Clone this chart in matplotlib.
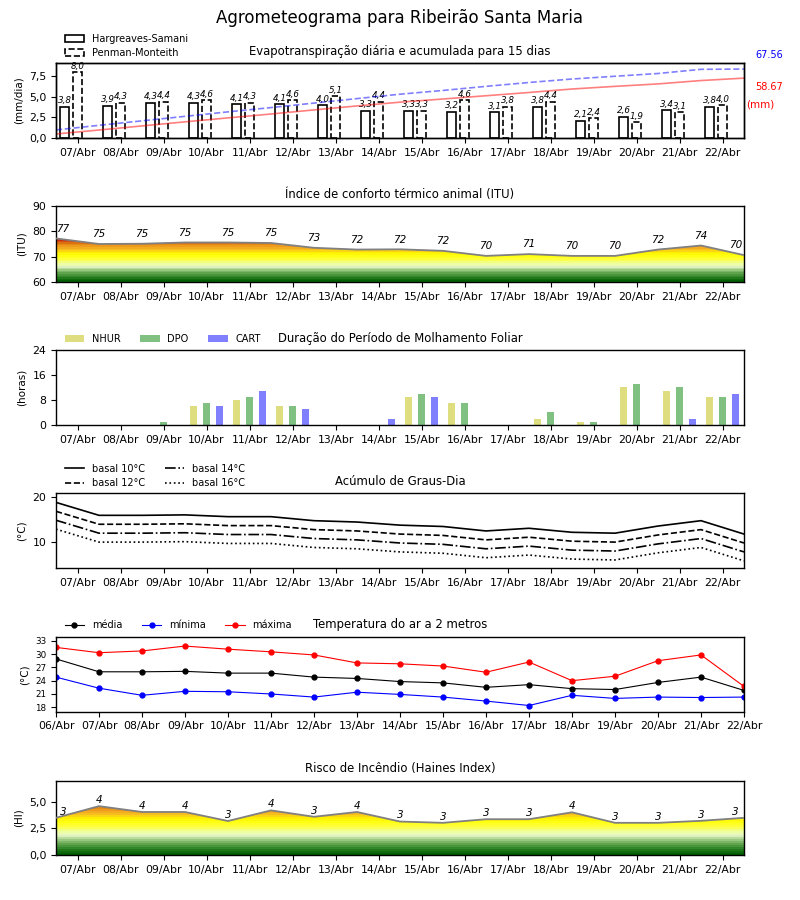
import numpy as np
import matplotlib
matplotlib.use("Agg")
import matplotlib.pyplot as plt
from matplotlib.colors import LinearSegmentedColormap, Normalize
from matplotlib.ticker import FuncFormatter

# ---------------- data ----------------
dates = ['07/Abr', '08/Abr', '09/Abr', '10/Abr', '11/Abr', '12/Abr', '13/Abr', '14/Abr',
         '15/Abr', '16/Abr', '17/Abr', '18/Abr', '19/Abr', '20/Abr', '21/Abr', '22/Abr']
dates_temp = ['06/Abr'] + dates

hargreaves = [3.8, 3.9, 4.3, 4.3, 4.1, 4.1, 4.0, 3.3, 3.3, 3.2, 3.1, 3.8, 2.1, 2.6, 3.4, 3.8]
penman = [8.0, 4.3, 4.4, 4.6, 4.3, 4.6, 5.1, 4.4, 3.3, 4.6, 3.8, 4.4, 2.4, 1.9, 3.1, 4.0]
cum_hargreaves = [3.9, 7.8, 11.8, 15.8, 19.7, 23.5, 27.5, 31.4, 35.1, 38.2, 41.4, 44.6,
                  48.0, 50.6, 53.0, 56.3, 58.67]
cum_penman = [7.9, 12.4, 16.8, 21.2, 25.6, 29.8, 34.2, 38.6, 42.9, 46.6, 50.6, 54.4,
              57.8, 60.5, 63.2, 67.3, 67.56]
total_hargreaves = '58.67'
total_penman = '67.56'

itu = [77.2, 75.0, 75.1, 75.6, 75.6, 75.4, 73.5, 72.8, 72.9, 72.3, 70.3, 71.0,
       70.3, 70.3, 72.8, 74.4, 70.6]

nhur = [0, 0, 0, 6, 8, 6, 0, 0, 9, 7, 0, 2, 1, 12, 11, 9]
dpo = [0, 0, 1, 7, 9, 6, 0, 0, 10, 7, 0, 4, 1, 13, 12, 9]
cart = [0, 0, 0, 6, 11, 5, 0, 2, 9, 0, 0, 0, 0, 0, 2, 10]

gd10 = [18.9, 16.0, 16.0, 16.1, 15.7, 15.7, 14.8, 14.5, 13.8, 13.5, 12.5, 13.1, 12.2, 12.0, 13.6, 14.8, 11.8]
gd12 = [16.9, 14.0, 14.0, 14.1, 13.7, 13.7, 12.8, 12.5, 11.8, 11.5, 10.5, 11.1, 10.2, 10.0, 11.6, 12.8, 9.8]
gd14 = [14.9, 12.0, 12.0, 12.1, 11.7, 11.7, 10.8, 10.5, 9.8, 9.5, 8.5, 9.1, 8.2, 8.0, 9.6, 10.8, 7.8]
gd16 = [12.9, 10.0, 10.0, 10.1, 9.7, 9.7, 8.8, 8.5, 7.8, 7.5, 6.5, 7.1, 6.2, 6.0, 7.6, 8.8, 5.8]

tmean = [28.9, 26.0, 26.0, 26.1, 25.7, 25.7, 24.8, 24.5, 23.8, 23.5, 22.5, 23.1, 22.2, 22.0, 23.6, 24.8, 21.8]
tmin = [24.8, 22.3, 20.7, 21.6, 21.5, 21.0, 20.3, 21.4, 20.9, 20.3, 19.4, 18.4, 20.7, 20.0, 20.3, 20.2, 20.3]
tmax = [31.5, 30.3, 30.7, 31.8, 31.1, 30.5, 29.8, 28.0, 27.8, 27.3, 25.9, 28.2, 24.0, 25.0, 28.5, 29.8, 22.7]

haines = [3.5, 4.6, 4.05, 4.05, 3.2, 4.2, 3.6, 4.05, 3.15, 3.03, 3.37, 3.37, 4.02, 3.03, 3.03, 3.22, 3.5]

# ---------------- style ----------------
plt.rcParams['font.family'] = ['DejaVu Sans']
plt.rcParams['axes.linewidth'] = 1.0
TICK_FS = 7.8
TITLE_FS = 8.4
LAB_FS = 7.5
LEG_FS = 7

cmap = LinearSegmentedColormap.from_list('risk', [
    (0.00, '#005f00'), (0.08, '#2a7f22'), (0.16, '#5ea34c'), (0.24, '#a5d08c'),
    (0.30, '#e8f8c8'), (0.36, '#eeffa0'), (0.44, '#ffff40'), (0.52, '#ffff10'),
    (0.58, '#fff000'), (0.64, '#f8c020'), (0.70, '#f0a020'), (0.76, '#e08010'),
    (0.82, '#d04010'), (0.88, '#c00000'), (1.00, '#900000')], N=32)

fig = plt.figure(figsize=(8, 9), dpi=100)
fig.suptitle('Agrometeograma para Ribeirão Santa Maria', fontsize=12, y=0.99)

L, W = 0.07, 0.86
H = 0.0833
ax1 = fig.add_axes([L, 0.8467, W, H])
ax2 = fig.add_axes([L, 0.6867, W, 0.0844])
ax3 = fig.add_axes([L, 0.5278, W, H])
ax4 = fig.add_axes([L, 0.3689, W, H])
ax5 = fig.add_axes([L, 0.2092, W, H])
ax6 = fig.add_axes([L, 0.0500, W, 0.0826])

x16 = np.arange(len(dates))
x17 = np.arange(len(dates) + 1) - 0.5
comma1 = FuncFormatter(lambda v, p: f'{v:.1f}'.replace('.', ','))


def date_axis(ax):
    ax.set_xticks(x16)
    ax.set_xticklabels(dates, fontsize=TICK_FS)
    ax.set_xlim(-0.5, 15.5)
    ax.tick_params(axis='y', labelsize=TICK_FS)


def gradient_fill(ax, x, y, ymin, vmin, vmax):
    poly = ax.fill_between(x, y, ymin, facecolor='none', edgecolor='none')
    ytop = max(y) + 0.5
    grad = np.linspace(ymin, ytop, 400).reshape(-1, 1)
    im = ax.imshow(grad, cmap=cmap, norm=Normalize(vmin, vmax),
                   extent=[x[0], x[-1], ymin, ytop], origin='lower',
                   aspect='auto', zorder=1, interpolation='nearest')
    im.set_clip_path(poly.get_paths()[0], transform=ax.transData)
    ax.plot(x, y, color='#808080', lw=1.3, zorder=3)


def point_labels(ax, x, y, dy):
    n = len(x)
    for i, (xi, yi) in enumerate(zip(x, y)):
        dx = 5 if i == 0 else (-6 if i == n - 1 else 0)
        ax.annotate(f'{int(yi)}', (xi, yi), xytext=(dx, dy), textcoords='offset points',
                    ha='center', va='center', fontsize=7.5, style='italic', zorder=4)


# ---------------- panel 1: evapotranspiration ----------------
b1 = ax1.bar(x16 - 0.3, hargreaves, width=0.2, facecolor='white', edgecolor='black',
             lw=1.2, label='Hargreaves-Samani', zorder=2)
b2 = ax1.bar(x16, penman, width=0.2, facecolor='white', edgecolor='black', lw=1.2,
             ls='--', label='Penman-Monteith', zorder=2)
for xs, vals in ((x16 - 0.3, hargreaves), (x16, penman)):
    for xi, v in zip(xs, vals):
        ax1.annotate(f'{v:.1f}'.replace('.', ','), (xi, v), xytext=(0, 1),
                     textcoords='offset points', ha='center', va='bottom',
                     fontsize=6.3, style='italic')
date_axis(ax1)
ax1.set_ylim(0, 9.1)
ax1.set_yticks([0, 2.5, 5.0, 7.5])
ax1.yaxis.set_major_formatter(comma1)
ax1.set_ylabel('(mm/dia)', fontsize=LAB_FS)
ax1.set_title('Evapotranspiração diária e acumulada para 15 dias', fontsize=TITLE_FS)
ax1.legend(loc='lower left', bbox_to_anchor=(0, 0.95), frameon=False, fontsize=LEG_FS,
           borderaxespad=0.5, labelspacing=0.45)
ax1t = ax1.twinx()
ax1t.plot(x17, cum_hargreaves, color='red', alpha=0.5, lw=1.2)
ax1t.plot(x17, cum_penman, color='blue', alpha=0.5, lw=1.2, ls='--')
ax1t.set_ylim(0, 73.5)
ax1t.set_yticks([])
ax1t.set_xlim(-0.5, 15.5)
ax1.text(1.036, 1.107, total_penman, transform=ax1.transAxes, color='blue',
         fontsize=7, ha='center', va='center')
ax1.text(1.036, 0.68, total_hargreaves, transform=ax1.transAxes, color='red',
         fontsize=7, ha='center', va='center')
ax1.text(1.003, 0.44, '(mm)', transform=ax1.transAxes, color='red',
         fontsize=7.5, ha='left', va='center')

# ---------------- panel 2: ITU ----------------
gradient_fill(ax2, x17, itu, 60, 60, 80)
point_labels(ax2, x17, itu, 7)
date_axis(ax2)
ax2.set_ylim(60, 90)
ax2.set_yticks([60, 70, 80, 90])
ax2.set_ylabel('(ITU)', fontsize=LAB_FS)
ax2.set_title('Índice de conforto térmico animal (ITU)', fontsize=TITLE_FS)

# ---------------- panel 3: leaf wetness ----------------
ax3.bar(x16 - 0.3, nhur, width=0.15, color='#dede80', label='NHUR')
ax3.bar(x16, dpo, width=0.15, color='#80c080', label='DPO')
ax3.bar(x16 + 0.3, cart, width=0.15, color='#8080ff', label='CART')
date_axis(ax3)
ax3.set_ylim(0, 24)
ax3.set_yticks([0, 8, 16, 24])
ax3.set_ylabel('(horas)', fontsize=LAB_FS)
ax3.set_title('Duração do Período de Molhamento Foliar', fontsize=TITLE_FS)
ax3.legend(loc='lower left', bbox_to_anchor=(0, 0.97), ncol=3, frameon=False,
           fontsize=LEG_FS, borderaxespad=0.5)

# ---------------- panel 4: degree days ----------------
ax4.plot(x17, gd10, color='black', lw=1.2, ls='-', label='basal 10°C')
ax4.plot(x17, gd12, color='black', lw=1.2, ls='--', label='basal 12°C')
ax4.plot(x17, gd14, color='black', lw=1.2, ls='-.', label='basal 14°C')
ax4.plot(x17, gd16, color='black', lw=1.2, ls=':', label='basal 16°C')
date_axis(ax4)
ax4.set_ylim(4.2, 21.0)
ax4.set_yticks([10, 20])
ax4.set_ylabel('(°C)', fontsize=LAB_FS)
ax4.set_title('Acúmulo de Graus-Dia', fontsize=TITLE_FS)
ax4.legend(loc='lower left', bbox_to_anchor=(0, 0.95), ncol=2, frameon=False,
           fontsize=LEG_FS, borderaxespad=0.5, labelspacing=0.45)

# ---------------- panel 5: temperature ----------------
xt = np.arange(len(dates_temp))
ax5.plot(xt, tmean, color='black', lw=0.8, marker='o', ms=3.5, label='média')
ax5.plot(xt, tmin, color='blue', lw=0.8, marker='o', ms=3.5, label='mínima')
ax5.plot(xt, tmax, color='red', lw=0.8, marker='o', ms=3.5, label='máxima')
ax5.set_xticks(xt)
ax5.set_xticklabels(dates_temp, fontsize=TICK_FS)
ax5.set_xlim(0, 16)
ax5.set_ylim(17.0, 33.9)
ax5.set_yticks([18, 21, 24, 27, 30, 33])
ax5.tick_params(axis='y', labelsize=6.3)
ax5.set_ylabel('(°C)', fontsize=LAB_FS)
ax5.set_title('Temperatura do ar a 2 metros', fontsize=TITLE_FS)
ax5.legend(loc='lower left', bbox_to_anchor=(0, 0.97), ncol=3, frameon=False,
           fontsize=LEG_FS, borderaxespad=0.5)

# ---------------- panel 6: Haines ----------------
gradient_fill(ax6, x17, haines, 0, 0, 6)
point_labels(ax6, x17, haines, 4.5)
date_axis(ax6)
ax6.set_ylim(0, 7)
ax6.set_yticks([0, 2.5, 5.0])
ax6.yaxis.set_major_formatter(comma1)
ax6.set_ylabel('(HI)', fontsize=LAB_FS)
ax6.set_title('Risco de Incêndio (Haines Index)', fontsize=TITLE_FS)

fig.savefig('out.png', dpi=100)
